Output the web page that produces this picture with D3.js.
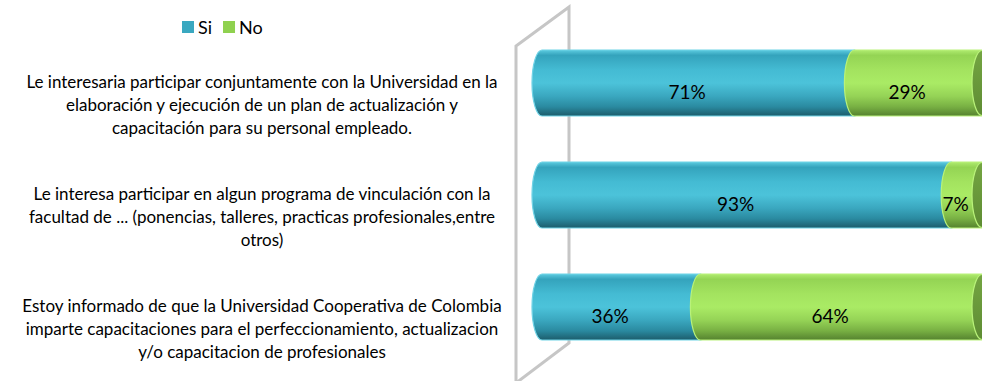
<!DOCTYPE html>
<html>
<head>
<meta charset="utf-8">
<script src="https://cdn.jsdelivr.net/npm/d3@7/dist/d3.min.js"></script>
<style>
  html, body { margin: 0; padding: 0; background: #fff; }
  svg { display: block; }
  text { font-family: Lato, "Open Sans", sans-serif; fill: #000; }
</style>
</head>
<body>
<svg id="chart" width="982" height="381"></svg>
<script>
// Survey answers (percent), one entry per question
const categories = [
  ["Le interesaria participar conjuntamente con la Universidad en la",
   "elaboración y ejecución de un plan de actualización y",
   "capacitación para su personal empleado."],
  ["Le interesa participar en algun programa de vinculación con la",
   "facultad de ... (ponencias, talleres, practicas profesionales,entre",
   "otros)"],
  ["Estoy informado de que la Universidad Cooperativa de Colombia",
   "imparte capacitaciones para el perfeccionamiento, actualizacion",
   "y/o capacitacion de profesionales"]
];
const seriesNames = ["Si", "No"];
const siValues = [71, 93, 36];
const noValues = [29, 7, 64];

const W = 982, H = 381;
const svg = d3.select("#chart");
const defs = svg.append("defs");

// cylinder shading: light rim, bright middle, dark underside
const palettes = {
  Si: { stops: ["#5ccbe0", "#34a3bc", "#44bbd3", "#4cc3da", "#3aa7bf", "#2a8aa0", "#1c5c6b"], rim: "#6fd3e6", key: "#3aa8c0" },
  No: { stops: ["#b0ec70", "#94d454", "#a3e35f", "#aaeb65", "#95d356", "#78b043", "#55822f"], rim: "#b9f27a", key: "#8fd14f" }
};
const offs = [0, 0.08, 0.3, 0.5, 0.7, 0.86, 1];
Object.entries(palettes).forEach(([k, p]) => {
  const g = defs.append("linearGradient").attr("id", "grad" + k)
    .attr("x1", 0).attr("y1", 0).attr("x2", 0).attr("y2", 1);
  p.stops.forEach((c, i) => g.append("stop").attr("offset", offs[i]).attr("stop-color", c));
});
const capGrad = defs.append("linearGradient").attr("id", "capNo")
  .attr("x1", 0).attr("y1", 0).attr("x2", 0).attr("y2", 1);
capGrad.append("stop").attr("offset", 0).attr("stop-color", "#74a542");
capGrad.append("stop").attr("offset", 1).attr("stop-color", "#5e8c33");

const x = d3.scaleLinear().domain([0, 100]).range([542, 982]);
const y = d3.scalePoint().domain(d3.range(categories.length)).range([83, 307]);
const barH = 66, rx = 10, ry = barH / 2;

// back wall of the 3D plot area
const wall = d3.path();
wall.moveTo(516, H + 5); wall.lineTo(516, 46); wall.lineTo(569, 7);
wall.lineTo(569, 343); wall.lineTo(516, H + 2);
svg.append("path").attr("d", wall.toString())
  .attr("fill", "none").attr("stroke", "#c6c6c6").attr("stroke-width", 3);

function cylPath(xs, xe, cy) {
  const t = cy - ry, b = cy + ry;
  return `M${xs},${t} L${xe},${t} A${rx},${ry} 0 0 1 ${xe},${b} L${xs},${b} A${rx},${ry} 0 0 1 ${xs},${t} Z`;
}

const rows = categories.map((c, i) => ({ i, si: siValues[i], no: noValues[i] }));

rows.forEach(r => {
  const cy = y(r.i);
  const segs = [
    { key: "Si", a: 0, b: r.si },
    { key: "No", a: r.si, b: r.si + r.no }
  ];
  const g = svg.append("g");
  segs.forEach(s => {
    g.append("path").attr("d", cylPath(x(s.a), x(s.b), cy))
      .attr("fill", `url(#grad${s.key})`)
      .attr("stroke", palettes[s.key].rim).attr("stroke-width", 1.2);
  });
  // visible end face of the cylinder
  g.append("ellipse").attr("cx", x(r.si + r.no)).attr("cy", cy)
    .attr("rx", rx).attr("ry", ry - 0.5)
    .attr("fill", "url(#capNo)").attr("stroke", palettes.No.rim).attr("stroke-width", 1.2);
  // value labels
  segs.forEach(s => {
    g.append("text").attr("x", (x(s.a) + x(s.b)) / 2 - 11).attr("y", cy + 9)
      .attr("dy", "0.36em").attr("text-anchor", "middle")
      .style("font-size", "19px").text(d3.format("d")(s.b - s.a) + "%");
  });
});

// category labels (centered block, three lines each)
const labelG = svg.append("g");
categories.forEach((lines, i) => {
  const cy = y(i) + 22;
  const t = labelG.append("text").attr("text-anchor", "middle").style("font-size", "17px");
  lines.forEach((ln, j) => {
    t.append("tspan").attr("x", 262).attr("y", cy + (j - 1) * 23).attr("dy", "0.35em").text(ln);
  });
});

// legend
const legend = svg.append("g").attr("transform", "translate(182,21)");
let lx = 0;
seriesNames.forEach(n => {
  legend.append("rect").attr("x", lx).attr("y", 0).attr("width", 12).attr("height", 12)
    .attr("fill", palettes[n].key);
  const tx = legend.append("text").attr("x", lx + 16).attr("y", 6.5).attr("dy", "0.36em")
    .style("font-size", "18px").text(n);
  lx += 16 + tx.node().getComputedTextLength() + 11;
});
</script>
</body>
</html>
